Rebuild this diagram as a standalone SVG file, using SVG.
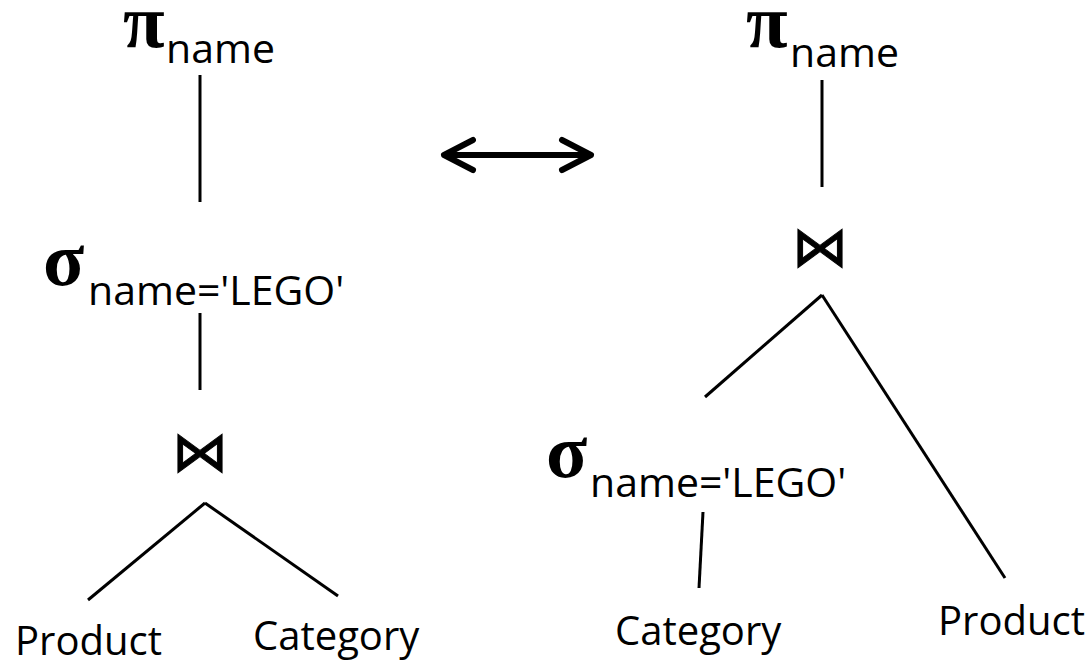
<svg xmlns="http://www.w3.org/2000/svg" width="1089" height="660" viewBox="0 0 1089 660">
  <style>
    .op { font-family: "Liberation Serif", "DejaVu Serif", serif; font-size: 76px; font-weight: bold; fill: #000; }
    .sub { font-family: "Open Sans", "Noto Sans", sans-serif; font-size: 41px; fill: #000; }
    .rel { font-family: "Open Sans", "Noto Sans", sans-serif; font-size: 40px; fill: #000; }
    .join { font-family: "DejaVu Sans", sans-serif; font-size: 56px; fill: #000; text-anchor: middle; stroke: #000; stroke-width: 1; }
    .edge { stroke: #000; stroke-width: 3; fill: none; stroke-linecap: butt; }
    .swap { stroke: #000; stroke-width: 6; fill: none; stroke-linecap: round; stroke-linejoin: round; }
  </style>

  <g id="connectors">
    <!-- left plan -->
    <line class="edge" x1="200" y1="75" x2="200" y2="202"/>
    <line class="edge" x1="200" y1="313" x2="200" y2="390"/>
    <line class="edge" x1="205" y1="503" x2="88" y2="600"/>
    <line class="edge" x1="205" y1="503" x2="338" y2="596"/>
    <!-- right plan -->
    <line class="edge" x1="822" y1="80" x2="822" y2="187"/>
    <line class="edge" x1="822" y1="295" x2="705" y2="397"/>
    <line class="edge" x1="822" y1="295" x2="1005" y2="578"/>
    <line class="edge" x1="703" y1="512" x2="699" y2="588"/>
    <!-- equivalence arrow -->
    <g id="equivalence">
      <line class="swap" x1="446" y1="155" x2="589" y2="155"/>
      <polyline class="swap" points="473,140 444,155 473,170"/>
      <polyline class="swap" points="562,140 591,155 562,170"/>
    </g>
  </g>

  <!-- left plan: projection over selection over join -->
  <g id="left-project">
    <text class="op" x="123" y="47">π</text>
    <text class="sub" x="166" y="63">name</text>
  </g>
  <g id="left-select">
    <text class="op" x="43" y="285">σ</text>
    <text class="sub" x="88" y="305">name='LEGO'</text>
  </g>
  <g id="left-join">
    <text class="join" x="200" y="471">⋈</text>
  </g>
  <g id="left-product">
    <text class="rel" x="15" y="655">Product</text>
  </g>
  <g id="left-category">
    <text class="rel" x="253" y="650">Category</text>
  </g>

  <!-- right plan: selection pushed below the join -->
  <g id="right-project">
    <text class="op" x="746" y="47">π</text>
    <text class="sub" x="790" y="67">name</text>
  </g>
  <g id="right-join">
    <text class="join" x="820" y="266">⋈</text>
  </g>
  <g id="right-select">
    <text class="op" x="546" y="477">σ</text>
    <text class="sub" x="590" y="497">name='LEGO'</text>
  </g>
  <g id="right-category">
    <text class="rel" x="615" y="645">Category</text>
  </g>
  <g id="right-product">
    <text class="rel" x="938" y="635">Product</text>
  </g>
</svg>
